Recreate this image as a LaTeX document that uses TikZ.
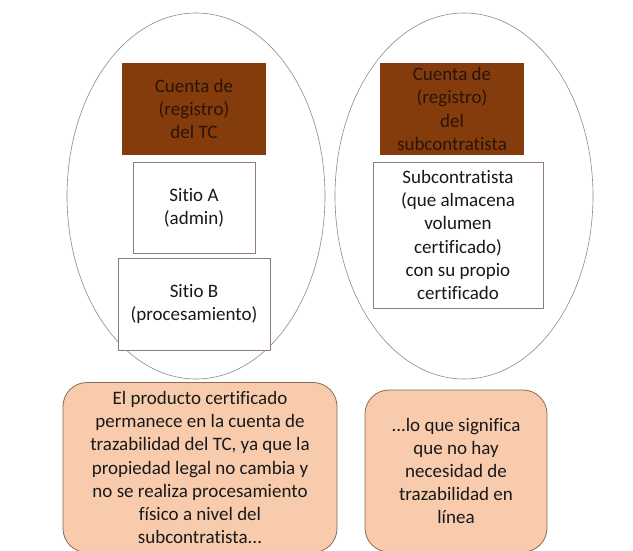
\documentclass[tikz,border=0pt]{standalone}
\usepackage{fontspec}
\setmainfont[Ligatures=NoCommon]{Carlito}
\begin{document}
\begin{tikzpicture}[x=1pt,y=-1pt,
  every node/.style={font=\fontsize{19}{23.2}\selectfont, align=center, inner sep=0pt},
  oval/.style={draw=black!45, line width=0.6pt},
  account/.style={fill=brownacc, draw=none, text=darktext},
  site/.style={draw=boxline, fill=white, line width=0.7pt, text=black!90},
  note/.style={draw=noteline, fill=notefill, rounded corners=24pt, line width=0.8pt, text=black!90}]
\definecolor{brownacc}{HTML}{843C0C}
\definecolor{darktext}{HTML}{2B1407}
\definecolor{boxline}{HTML}{8C7B70}
\definecolor{notefill}{HTML}{F8CBAD}
\definecolor{noteline}{HTML}{8A6A55}
\useasboundingbox (0,0) rectangle (633,551);
\fill[white] (0,0) rectangle (633,551);
\draw[oval] (196,196) ellipse [x radius=129, y radius=183];
\draw[oval] (464,196) ellipse [x radius=129, y radius=183];
\node[account, minimum width=144pt, minimum height=92pt] (acctc) at (194,109) {Cuenta de\\(registro)\\del TC};
\node[site, minimum width=122pt, minimum height=91pt] (sa) at (194,207.5) {Sitio A\\(admin)};
\node[site, minimum width=152pt, minimum height=92pt] (sb) at (194,304) {Sitio B\\(procesamiento)};
\node[account, minimum width=144pt, minimum height=92pt] (accsub) at (452,109) {Cuenta de\\(registro)\\del\\subcontratista};
\node[site, minimum width=170pt, minimum height=146pt] (sub) at (458,235) {Subcontratista\\(que almacena\\volumen\\certificado)\\con su propio\\certificado};
\begin{scope}
\clip (0,0) rectangle (633,551);
\node[note, minimum width=274pt, minimum height=170pt] (n1) at (200,467.5) {El producto certificado\\permanece en la cuenta de\\trazabilidad del TC, ya que la\\propiedad legal no cambia y\\no se realiza procesamiento\\físico a nivel del\\subcontratista...};
\node[note, minimum width=182pt, minimum height=162pt] (n2) at (456,471) {...lo que significa\\que no hay\\necesidad de\\trazabilidad en\\línea};
\end{scope}
\end{tikzpicture}
\end{document}
